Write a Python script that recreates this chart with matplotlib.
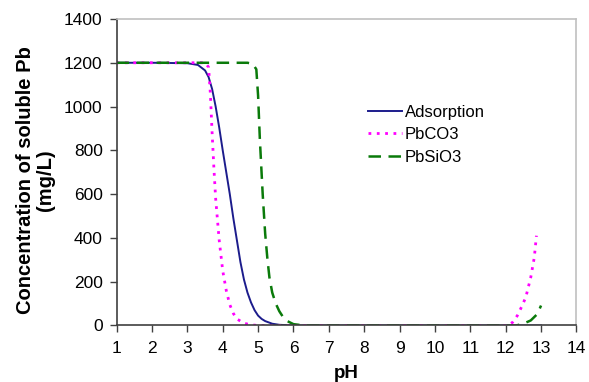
import matplotlib.pyplot as plt

plt.rcParams['font.family'] = ['Liberation Sans', 'DejaVu Sans']

# values
ads_ph = [1.0, 2.0, 3.0, 3.3, 3.5, 3.6, 3.7, 3.8, 3.9, 4.0, 4.1, 4.2, 4.3, 4.4, 4.5,
          4.6, 4.7, 4.8, 4.9, 5.0, 5.1, 5.2, 5.4, 5.6, 6.0, 13.0]
ads_pb = [1200, 1200, 1198, 1190, 1165, 1135, 1080, 1000, 905, 800, 700, 600, 490, 390, 290,
          210, 150, 105, 70, 45, 30, 20, 8, 3, 0, 0]

co3_ph = [1.0, 3.5, 3.6, 3.65, 3.7, 3.75, 3.8, 3.9, 4.0, 4.1, 4.2, 4.3, 4.4, 4.6, 4.8, 5.0,
          12.0, 12.1, 12.2, 12.33, 12.45, 12.57, 12.71, 12.81, 12.87]
co3_pb = [1200, 1200, 1180, 1060, 880, 720, 580, 390, 250, 160, 95, 55, 30, 10, 3, 0,
          0, 3, 15, 45, 85, 129, 220, 311, 410]

sio3_ph = [1.0, 4.7, 4.85, 4.95, 5.0, 5.05, 5.13, 5.2, 5.26, 5.32, 5.4, 5.5, 5.6, 5.7, 5.8,
           6.0, 6.3, 12.3, 12.5, 12.71, 12.9, 13.0]
sio3_pb = [1200, 1200, 1195, 1170, 1050, 850, 600, 420, 310, 220, 150, 100, 65, 40, 22,
           6, 0, 0, 8, 23, 53, 91]

fig = plt.figure(figsize=(5.89, 3.82), dpi=100)
ax = fig.add_axes([0.198, 0.148, 0.7806, 0.8023])

ax.plot(ads_ph, ads_pb, color='#1c1c8c', lw=1.4, label='Adsorption')
ax.plot(co3_ph, co3_pb, color='#ff00ff', lw=2.0, linestyle=(0, (1, 2)), label='PbCO3')
ax.plot(sio3_ph, sio3_pb, color='#0a7a0a', lw=1.8, linestyle=(0, (5, 3)), label='PbSiO3')

ax.set_xlim(1, 14)
ax.set_ylim(0, 1400)
ax.set_xticks(range(1, 15))
ax.set_yticks(range(0, 1401, 200))
ax.tick_params(direction='out', length=5, width=1, color='#404040', labelsize=12.5)
ax.tick_params(axis='x', pad=6)
ax.tick_params(axis='y', pad=5)

for s in ['left', 'bottom']:
    ax.spines[s].set_color('#404040')
    ax.spines[s].set_linewidth(1.2)
for s in ['top', 'right']:
    ax.spines[s].set_color('#c0c0c0')
    ax.spines[s].set_linewidth(1.2)

ax.set_xlabel('pH', fontsize=13.5, fontweight='bold')
ax.xaxis.set_label_coords(0.5, -0.128)
ax.set_ylabel('Concentration of soluble Pb\n(mg/L)', fontsize=14.5, fontweight='bold',
              linespacing=1.05)
ax.yaxis.set_label_coords(-0.134, 0.475)

ax.legend(loc='upper left', bbox_to_anchor=(0.6, 0.765), bbox_transform=fig.transFigure,
          frameon=False, fontsize=12, handlelength=2.0, handletextpad=0.2,
          labelspacing=0.45)

fig.savefig('out.png', dpi=100)
